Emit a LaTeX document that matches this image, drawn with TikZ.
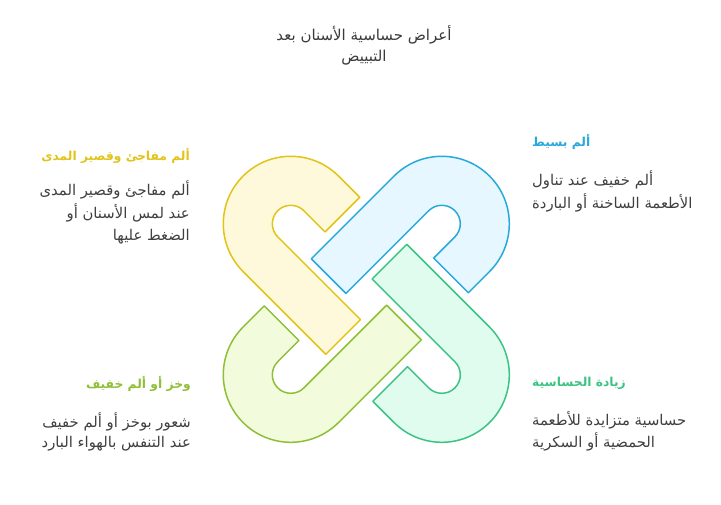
\documentclass[tikz,border=0pt]{standalone}
\usepackage{fontspec}
\setmainfont{DejaVu Sans}
\newfontfamily\arabicfont[Script=Arabic]{DejaVu Sans}
\TeXXeTstate=1
\definecolor{ystroke}{HTML}{E0C419}
\definecolor{yfill}{HTML}{FFF9DB}
\definecolor{bstroke}{HTML}{29A9DB}
\definecolor{bfill}{HTML}{E6F7FF}
\definecolor{gstroke}{HTML}{3CC383}
\definecolor{gfill}{HTML}{E0FCEE}
\definecolor{lstroke}{HTML}{8FBE37}
\definecolor{lfill}{HTML}{F2FCDD}
\definecolor{titlegray}{HTML}{3A3A3A}
\definecolor{bodygray}{HTML}{404040}
\newcommand\chainlink[3]{%
  \begin{scope}[rotate around={#1:(366.3,204.7)}]
    \draw[linkline, draw=#2, fill=#3, shift={(290.8,280.2)}, rotate=-45]
      (30,67.5) -- (0,67.5) arc[start angle=90, end angle=270, radius=67.5pt]
      -- (117,-67.5) -- (117,-18.5) -- (0,-18.5)
      arc[start angle=270, end angle=90, radius=18.5pt] -- (30,18.5) -- cycle;
  \end{scope}}
\begin{document}
\begin{tikzpicture}[x=1pt,y=1pt,
  linkline/.style={line width=1.5pt, line join=round},
  ttl/.style={font=\arabicfont\fontsize{15}{17}\selectfont, text=titlegray, inner sep=0pt},
  hd/.style={font=\arabicfont\bfseries\fontsize{12.3}{15}\selectfont, inner sep=0pt},
  bd/.style={font=\arabicfont\fontsize{14.8}{17}\selectfont, text=bodygray, inner sep=0pt}]
\useasboundingbox (0,0) rectangle (721,504);
\chainlink{0}{ystroke}{yfill}
\chainlink{-90}{bstroke}{bfill}
\chainlink{-180}{gstroke}{gfill}
\chainlink{90}{lstroke}{lfill}
% title
\node[ttl] (t1) at (364,469) {\beginR أعراض حساسية الأسنان بعد\endR};
\node[ttl] (t2) at (364,446) {\beginR التبييض\endR};
% top-left
\node[hd, text=ystroke, anchor=east] (h1) at (190,348) {\beginR ألم مفاجئ وقصير المدى\endR};
\node[bd, anchor=east] (b1a) at (190,314) {\beginR ألم مفاجئ وقصير المدى\endR};
\node[bd, anchor=east] (b1b) at (190,291) {\beginR عند لمس الأسنان أو\endR};
\node[bd, anchor=east] (b1c) at (190,267) {\beginR الضغط عليها\endR};
% top-right
\node[hd, text=bstroke, anchor=west] (h2) at (532,362) {\beginR ألم بسيط\endR};
\node[bd, anchor=west] (b2a) at (532,324) {\beginR ألم خفيف عند تناول\endR};
\node[bd, anchor=west] (b2b) at (532,301) {\beginR الأطعمة الساخنة أو الباردة\endR};
% bottom-left
\node[hd, text=lstroke, anchor=east] (h3) at (191,120) {\beginR وخز أو ألم خفيف\endR};
\node[bd, anchor=east] (b3a) at (191,82) {\beginR شعور بوخز أو ألم خفيف\endR};
\node[bd, anchor=east] (b3b) at (191,60) {\beginR عند التنفس بالهواء البارد\endR};
% bottom-right
\node[hd, text=gstroke, anchor=west] (h4) at (532,121) {\beginR زيادة الحساسية\endR};
\node[bd, anchor=west] (b4a) at (532,84) {\beginR حساسية متزايدة للأطعمة\endR};
\node[bd, anchor=west] (b4b) at (532,62) {\beginR الحمضية أو السكرية\endR};
\end{tikzpicture}
\end{document}
